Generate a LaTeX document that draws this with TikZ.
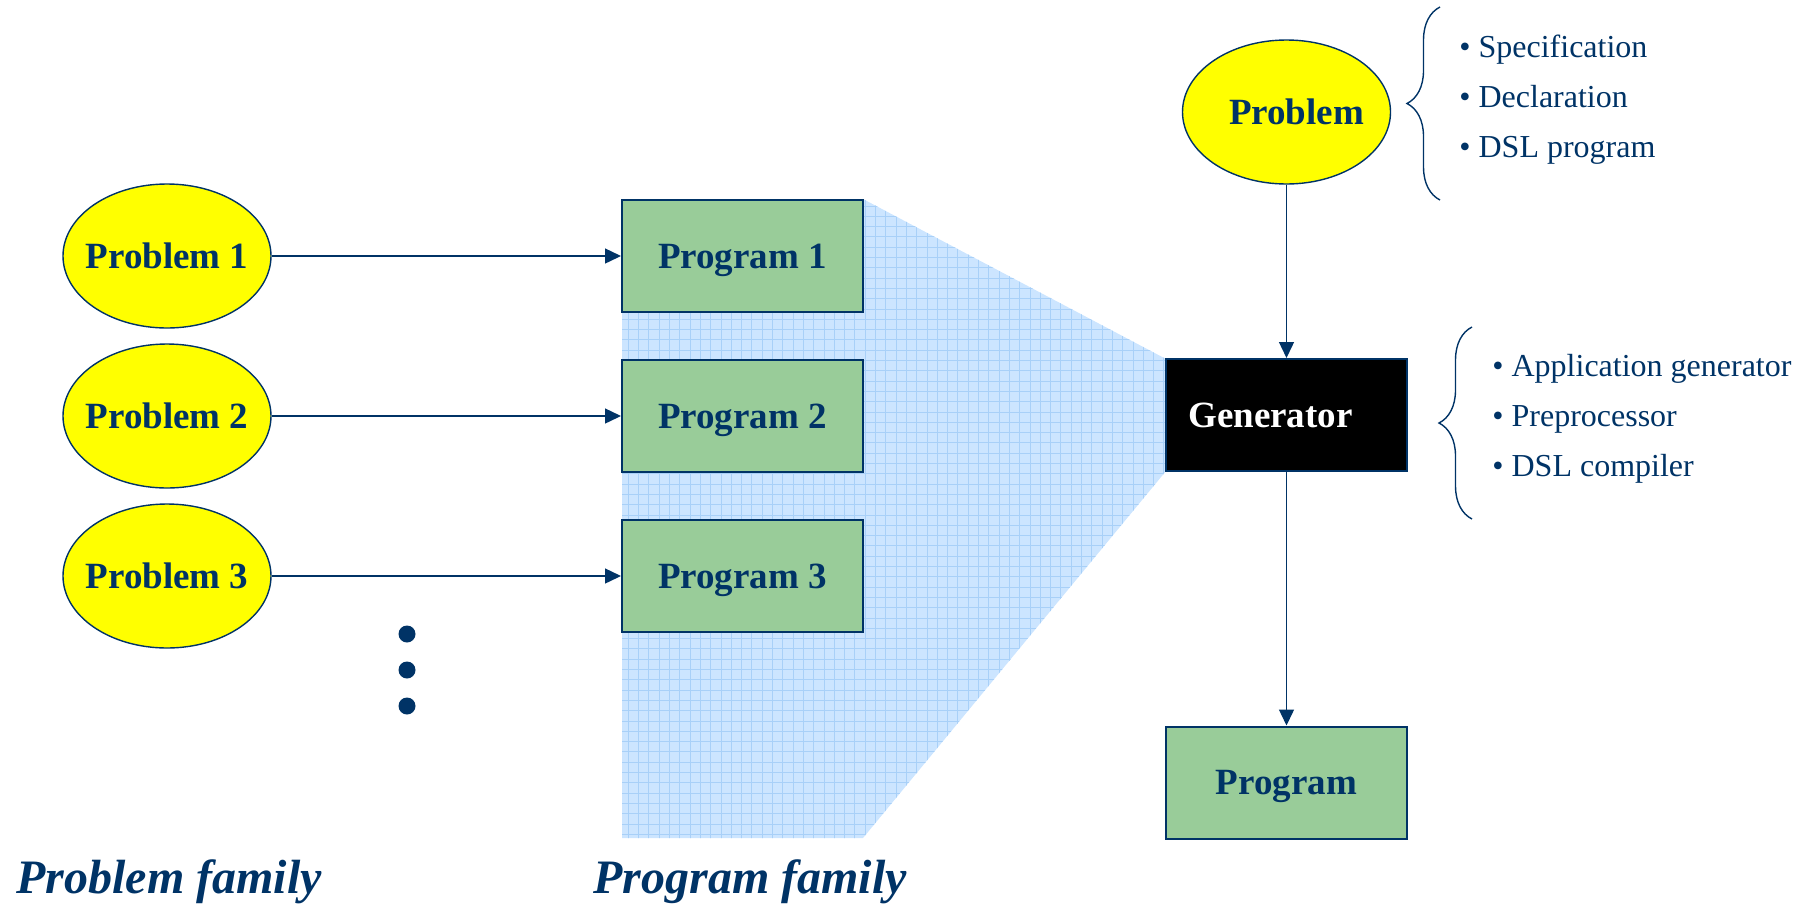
\documentclass[tikz,border=0pt]{standalone}
\usepackage{fontspec}
\setmainfont{Liberation Serif}
\usetikzlibrary{positioning}
\usetikzlibrary{shapes.geometric}
\usetikzlibrary{arrows.meta}
\usetikzlibrary{decorations.pathreplacing}
\definecolor{navy}{HTML}{003366}
\definecolor{progreen}{HTML}{99CC99}
\definecolor{sunny}{HTML}{FFFF00}
\definecolor{gridblue}{HTML}{CCE5FF}
\definecolor{gridline}{HTML}{A8D0F8}
\tikzset{
	every node/.style = {text=navy},
	prob/.style = {ellipse, draw=navy, line width=0.7pt, fill=sunny, minimum width=104pt, minimum height=72pt, inner xsep=-6pt, inner ysep=0pt, text height=12.3pt, text depth=0pt, font=\fontsize{18.5}{20}\selectfont\bfseries},
	prog/.style = {rectangle, draw=navy, line width=1pt, fill=progreen, minimum width=120.5pt, minimum height=56pt, inner sep=0pt, text height=12.3pt, text depth=0pt, font=\fontsize{18.5}{20}\selectfont\bfseries},
	genbox/.style = {prog, fill=black, text=white},
	link/.style = {-{Triangle[length=8pt,width=7.5pt]}, navy, line width=0.7pt},
	item/.style = {anchor=base west, inner sep=0pt, font=\fontsize{16}{19}\selectfont},
	family/.style = {anchor=base west, inner sep=0pt, font=\fontsize{24}{27}\selectfont\bfseries\itshape},
	curly/.style = {decorate, decoration={brace, amplitude=16.5pt}, navy, line width=0.7pt}
}
\begin{document}
\begin{tikzpicture}[x=0.5pt, y=-0.5pt]
	\useasboundingbox (0,0) rectangle (1805,906);
	% program family area
	\begin{scope}
		\clip (622,199) -- (863,199) -- (1166,359) -- (1166,471) -- (863,838) -- (622,838) -- cycle;
		\fill[gridblue] (600,180) rectangle (1200,860);
		\draw[gridline, line width=0.5pt, step=5.15pt] (600,180) grid (1200,860);
	\end{scope}
	% problems and programs
	\foreach \i in {1,2,3} {
		\node[prob] (pb\i) at (167,96+160*\i) {Problem \i};
		\node[prog] (pg\i) at (742.5,96+160*\i) {Program \i};
		\draw[link] (pb\i) -- (pg\i);
	}
	\foreach \k in {0,1,2}
		\fill[navy] (407,634+36*\k) circle[radius=4.25pt];
	% generator
	\node[prob] (top) at (1286.5,112) {\hspace*{10pt}Problem};
	\node[genbox] (gen) at (1286.5,415) {Generator\hspace*{16pt}};
	\node[prog] (out) at (1286.5,782.5) {Program};
	\draw[link] (top) -- (gen);
	\draw[link] (gen) -- (out);
	% braces
	\draw[curly] (1440,200) -- (1440,7);
	\draw[curly] (1472,519) -- (1472,327);
	\foreach \t [count=\k] in {Specification, Declaration, DSL program}
		\node[item] (in\k) at (1459,7+50*\k) {\textbullet\ \t};
	\foreach \t [count=\k] in {Application generator, Preprocessor, DSL compiler}
		\node[item] (gn\k) at (1492,326+50*\k) {\textbullet\ \t};
	% family labels
	\node[family] (pbfam) at (16,893) {Problem family};
	\node[family] (pgfam) at (593,893) {Program family};
\end{tikzpicture}
\end{document}
